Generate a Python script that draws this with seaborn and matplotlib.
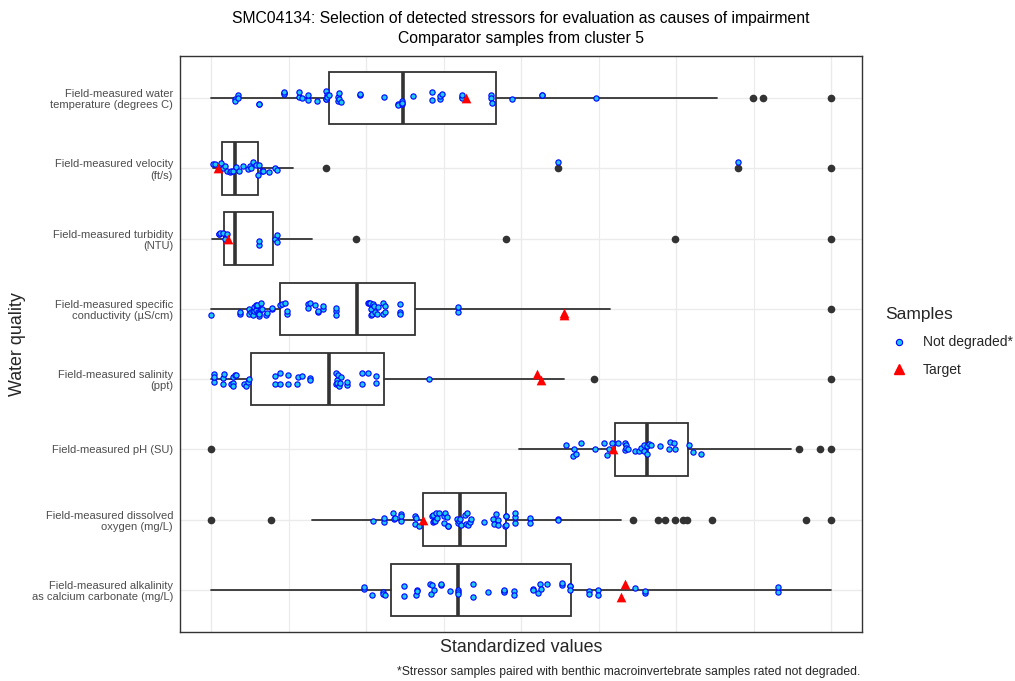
import numpy as np
import pandas as pd
import matplotlib
matplotlib.use("Agg")
import matplotlib.pyplot as plt
from matplotlib.lines import Line2D
import seaborn as sns

# ---------------- data ----------------
categories = [
    "Field-measured water\ntemperature (degrees C)",
    "Field-measured velocity\n(ft/s)",
    "Field-measured turbidity\n(NTU)",
    "Field-measured specific\nconductivity (µS/cm)",
    "Field-measured salinity\n(ppt)",
    "Field-measured pH (SU)",
    "Field-measured dissolved\noxygen (mg/L)",
    "Field-measured alkalinity\nas calcium carbonate (mg/L)",
]

# "Not degraded*" samples (standardized values)
temperature = [0.038, 0.038, 0.044, 0.044, 0.077, 0.077, 0.117, 0.117, 0.117, 0.142, 0.142,
               0.147, 0.156, 0.156, 0.171, 0.185, 0.185, 0.185, 0.187, 0.187, 0.190, 0.205,
               0.205, 0.207, 0.207, 0.209, 0.241, 0.241, 0.279, 0.301, 0.301, 0.308, 0.308,
               0.308, 0.326, 0.357, 0.357, 0.370, 0.370, 0.372, 0.405, 0.405, 0.405, 0.452,
               0.452, 0.454, 0.486, 0.534, 0.534, 0.621]
velocity = [0.004, 0.007, 0.013, 0.016, 0.020, 0.023, 0.026, 0.030, 0.033, 0.036, 0.040,
            0.045, 0.052, 0.059, 0.063, 0.064, 0.068, 0.072, 0.076, 0.077, 0.083, 0.084,
            0.093, 0.103, 0.106, 0.560, 0.850]
turbidity = [0.013, 0.013, 0.014, 0.020, 0.023, 0.025, 0.077, 0.077, 0.103, 0.106, 0.106]
conductivity = [0.000, 0.047, 0.047, 0.061, 0.061, 0.064, 0.067, 0.067, 0.069, 0.070, 0.072,
                0.072, 0.074, 0.075, 0.077, 0.077, 0.078, 0.080, 0.080, 0.082, 0.088, 0.091,
                0.099, 0.099, 0.111, 0.115, 0.120, 0.123, 0.123, 0.157, 0.157, 0.160, 0.167,
                0.173, 0.173, 0.181, 0.181, 0.202, 0.202, 0.202, 0.253, 0.255, 0.256, 0.258,
                0.258, 0.260, 0.262, 0.263, 0.265, 0.267, 0.269, 0.277, 0.277, 0.281, 0.281,
                0.305, 0.305, 0.305, 0.398, 0.398]
salinity = [0.005, 0.005, 0.005, 0.019, 0.019, 0.021, 0.033, 0.035, 0.035, 0.036, 0.038,
            0.040, 0.054, 0.056, 0.060, 0.061, 0.103, 0.103, 0.111, 0.111, 0.124, 0.124,
            0.139, 0.141, 0.146, 0.160, 0.160, 0.201, 0.202, 0.203, 0.204, 0.205, 0.206,
            0.208, 0.209, 0.220, 0.220, 0.243, 0.243, 0.253, 0.266, 0.266, 0.351]
ph = [0.572, 0.584, 0.586, 0.589, 0.596, 0.619, 0.634, 0.638, 0.642, 0.647, 0.657, 0.667,
      0.667, 0.670, 0.670, 0.673, 0.684, 0.690, 0.693, 0.699, 0.699, 0.703, 0.703, 0.706,
      0.709, 0.724, 0.738, 0.740, 0.747, 0.749, 0.771, 0.778, 0.791]
dissolved_oxygen = [0.262, 0.279, 0.279, 0.293, 0.295, 0.296, 0.306, 0.306, 0.307, 0.329,
                    0.329, 0.330, 0.336, 0.356, 0.358, 0.358, 0.360, 0.362, 0.363, 0.365,
                    0.368, 0.375, 0.376, 0.378, 0.380, 0.382, 0.383, 0.396, 0.398, 0.400,
                    0.402, 0.404, 0.409, 0.411, 0.413, 0.415, 0.417, 0.419, 0.441, 0.455,
                    0.457, 0.460, 0.463, 0.463, 0.474, 0.475, 0.476, 0.476, 0.490, 0.490,
                    0.490, 0.514, 0.514, 0.560, 0.560]
alkalinity = [0.246, 0.246, 0.260, 0.278, 0.278, 0.281, 0.311, 0.311, 0.331, 0.333, 0.333,
              0.353, 0.355, 0.357, 0.359, 0.371, 0.371, 0.386, 0.398, 0.398, 0.398, 0.422,
              0.422, 0.447, 0.473, 0.473, 0.473, 0.488, 0.488, 0.519, 0.519, 0.528, 0.530,
              0.532, 0.542, 0.566, 0.566, 0.579, 0.579, 0.579, 0.609, 0.609, 0.624, 0.624,
              0.684, 0.700, 0.700, 0.915, 0.915]
not_degraded = [temperature, velocity, turbidity, conductivity, salinity, ph,
                dissolved_oxygen, alkalinity]

# Target sample values
target = [[0.411], [0.011], [0.027], [0.570, 0.570], [0.525, 0.533], [0.649],
          [0.342], [0.662, 0.667]]

# Boxplot statistics of all comparator samples (cluster 5)
box_low = [0.0, 0.003, 0.002, 0.0, 0.0, 0.497, 0.163, 0.0]
box_q1 = [0.190, 0.018, 0.021, 0.111, 0.065, 0.651, 0.342, 0.290]
box_med = [0.310, 0.038, 0.038, 0.236, 0.190, 0.704, 0.401, 0.399]
box_q3 = [0.460, 0.076, 0.100, 0.329, 0.279, 0.770, 0.476, 0.580]
box_high = [0.816, 0.132, 0.163, 0.644, 0.570, 0.935, 0.661, 1.0]
box_outliers = [
    [0.874, 0.891, 1.0],
    [0.185, 0.560, 0.850, 1.0],
    [0.234, 0.476, 0.749, 1.0],
    [1.0],
    [0.617, 1.0],
    [0.0, 0.948, 0.982, 1.0],
    [0.0, 0.096, 0.680, 0.721, 0.733, 0.748, 0.762, 0.767, 0.808, 0.960, 1.0],
    [],
]

# ---------------- tables ----------------
nd_df = pd.DataFrame({
    "variable": np.repeat(categories, [len(v) for v in not_degraded]),
    "value": np.concatenate(not_degraded),
})
tg_df = pd.DataFrame({
    "variable": np.repeat(categories, [len(v) for v in target]),
    "value": np.concatenate(target),
})
stats = [dict(med=m, q1=a, q3=b, whislo=lo, whishi=hi, fliers=o)
         for m, a, b, lo, hi, o in zip(box_med, box_q1, box_q3, box_low, box_high, box_outliers)]

# ---------------- plot ----------------
sns.set_theme(style="white")
plt.rcParams["font.family"] = ["Liberation Sans", "DejaVu Sans"]

W, H = 1015, 681
fig = plt.figure(figsize=(W / 100, H / 100), dpi=100)
ax = fig.add_axes([180 / W, 1 - 632 / H, (862 - 180) / W, (632 - 56) / H])

dark = "#333333"
ax.bxp(stats, positions=range(len(categories)), widths=0.75, orientation="horizontal",
       patch_artist=True, showcaps=False, manage_ticks=False,
       boxprops=dict(facecolor="white", edgecolor=dark, linewidth=1.3, zorder=2),
       medianprops=dict(color=dark, linewidth=2.6, zorder=2.1),
       whiskerprops=dict(color=dark, linewidth=1.3, zorder=2),
       flierprops=dict(marker="o", markerfacecolor=dark, markeredgecolor=dark,
                       markersize=4.5, zorder=2))

np.random.seed(3)
nd_fill = "#1EC8F0"
sns.stripplot(data=nd_df, x="value", y="variable", order=categories, orient="h",
              jitter=0.1, size=3.8, color=nd_fill, edgecolor="blue", linewidth=0.8,
              zorder=3, ax=ax)
sns.stripplot(data=tg_df, x="value", y="variable", order=categories, orient="h",
              jitter=0.1, size=7, marker="^", color="red", linewidth=0,
              zorder=4, ax=ax)

ax.set_xlim(-0.05, 1.05)
ax.set_ylim(len(categories) - 0.4, -0.6)
ax.set_xticks(np.arange(0, 1.01, 0.25))
ax.set_xticks(np.arange(0.125, 1.0, 0.25), minor=True)
ax.set_xticklabels([])
ax.tick_params(axis="x", which="both", length=0)
ax.set_yticks(range(len(categories)))
ax.set_yticklabels(categories, linespacing=1.15)
ax.tick_params(axis="y", length=3, width=1, color=dark, labelsize=8,
               labelcolor="#4D4D4D", pad=2)
ax.grid(which="major", axis="both", color="#EBEBEB", linewidth=1.0)
ax.grid(which="minor", axis="x", color="#EBEBEB", linewidth=0.8)
ax.set_axisbelow(True)
ax.set_xlabel("")
ax.set_ylabel("")
for s in ax.spines.values():
    s.set_color(dark)
    s.set_linewidth(1.0)

# texts
cx = (180 + 862) / 2 / W
fig.text(cx, 1 - 18 / H, "SMC04134: Selection of detected stressors for evaluation as causes of impairment",
         ha="center", va="center", fontsize=11.3, color="black")
fig.text(cx, 1 - 39 / H, "Comparator samples from cluster 5",
         ha="center", va="center", fontsize=11.3, color="black")
fig.text(cx, 1 - 648 / H, "Standardized values", ha="center", va="center", fontsize=12.9)
fig.text(18 / W, 1 - 344 / H, "Water quality", ha="center", va="center", rotation=90, fontsize=12.9)
fig.text(860 / W, 1 - 672 / H,
         "*Stressor samples paired with benthic macroinvertebrate samples rated not degraded.",
         ha="right", va="center", fontsize=8.7)

handles = [
    Line2D([], [], marker="o", ls="", markerfacecolor=nd_fill, markeredgecolor="blue",
           markeredgewidth=0.8, markersize=4.5),
    Line2D([], [], marker="^", ls="", color="red", markersize=6.5),
]
leg = fig.legend(handles, ["Not degraded*", "Target"], title="Samples", loc="upper left",
                 bbox_to_anchor=(880 / W, 1 - 301 / H), frameon=False, fontsize=10,
                 title_fontsize=12.5, alignment="left", handletextpad=0.7,
                 labelspacing=0.95, borderaxespad=0, borderpad=0.4)
leg._legend_box.sep = 10

fig.savefig("out.png", dpi=100)
